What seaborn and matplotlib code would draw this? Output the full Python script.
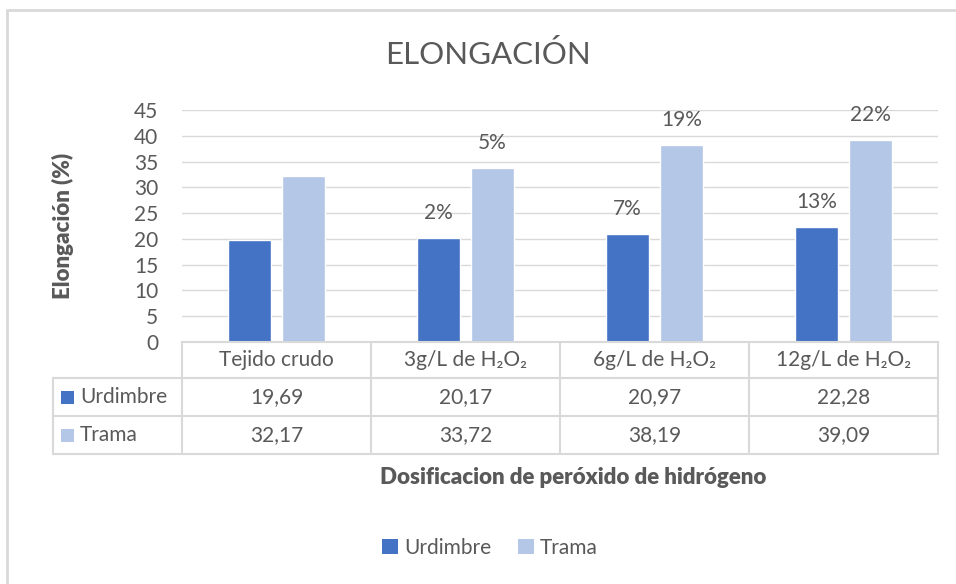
import matplotlib
matplotlib.use("Agg")
import matplotlib.pyplot as plt
import matplotlib.transforms as mtransforms
from matplotlib.lines import Line2D
from matplotlib.patches import Rectangle
import pandas as pd
import seaborn as sns

categories = ["Tejido crudo", "3g/L de H₂O₂", "6g/L de H₂O₂", "12g/L de H₂O₂"]
urdimbre = [19.69, 20.17, 20.97, 22.28]
trama = [32.17, 33.72, 38.19, 39.09]
urdimbre_pct = ["", "2%", "7%", "13%"]
trama_pct = ["", "5%", "19%", "22%"]
series = ["Urdimbre", "Trama"]
colors = ["#4472C4", "#B4C7E7"]
urdimbre_txt = ["19,69", "20,17", "20,97", "22,28"]
trama_txt = ["32,17", "33,72", "38,19", "39,09"]

df = pd.DataFrame({
    "cat": categories * 2,
    "serie": ["Urdimbre"] * 4 + ["Trama"] * 4,
    "val": urdimbre + trama,
})

sns.set_style("white")
plt.rcParams["font.family"] = ["Lato", "DejaVu Sans"]
txt = "#595959"
grid = "#D9D9D9"
fs = 15

W, H = 956, 584
fig = plt.figure(figsize=(W / 100, H / 100), dpi=100)
fig.patch.set_facecolor("white")


def fx(px):
    return px / W


def fy(py):
    return 1 - py / H


ax = fig.add_axes([fx(182), fy(342), fx(938) - fx(182), fy(110) - fy(342)])
sns.barplot(data=df, x="cat", y="val", hue="serie", order=categories,
            hue_order=series, palette=colors, width=0.571, gap=0.22,
            saturation=1, legend=False, ax=ax)
ax.set_xlim(-0.5, 3.5)
ax.set_ylim(0, 45)
ax.set_yticks(range(0, 50, 5))
ax.yaxis.grid(True, color=grid, linewidth=1)
ax.set_axisbelow(True)
for s in ax.spines.values():
    s.set_visible(False)
ax.tick_params(axis="y", length=0, labelsize=fs, labelcolor=txt, pad=17)
ax.set_xticks([])
ax.set_xlabel("")
ax.set_ylabel("Elongación (%)", fontsize=16, fontweight="heavy", color=txt, labelpad=43)

# percent labels over bars
for cont, labels in zip(ax.containers, [urdimbre_pct, trama_pct]):
    for bar, lab in zip(cont, labels):
        if lab:
            ax.annotate(lab, (bar.get_x() + bar.get_width() / 2, bar.get_height()),
                        xytext=(0, 18), textcoords="offset points", ha="center",
                        va="center", fontsize=fs, color=txt)

# data table under the plot
tr = mtransforms.blended_transform_factory(ax.transData, fig.transFigure)
left = -0.5 - (182 - 53) / 189
rows = [fy(342), fy(378), fy(416), fy(454)]
lkw = dict(color=grid, linewidth=1.5, transform=tr, clip_on=False)
fig.add_artist(Line2D([-0.5, 3.5], [rows[0]] * 2, **lkw))
for r in rows[1:]:
    fig.add_artist(Line2D([left, 3.5], [r] * 2, **lkw))
fig.add_artist(Line2D([left, left], [rows[1], rows[3]], **lkw))
for i in range(5):
    fig.add_artist(Line2D([i - 0.5, i - 0.5], [rows[0], rows[3]], **lkw))

for i, c in enumerate(categories):
    fig.text(i, (rows[0] + rows[1]) / 2, c, transform=tr, ha="center", va="center",
             fontsize=fs, color=txt)
    fig.text(i, (rows[1] + rows[2]) / 2, urdimbre_txt[i], transform=tr, ha="center",
             va="center", fontsize=fs, color=txt)
    fig.text(i, (rows[2] + rows[3]) / 2, trama_txt[i], transform=tr, ha="center",
             va="center", fontsize=fs, color=txt)

for k, (name, col) in enumerate(zip(series, colors)):
    yc = (rows[1 + k] + rows[2 + k]) / 2
    fig.add_artist(Rectangle((fx(61), yc - 6.5 / H), 13 / W, 13 / H,
                             facecolor=col, edgecolor="none", transform=fig.transFigure))
    fig.text(fx(80), yc, name, ha="left", va="center", fontsize=fs, color=txt)

fig.text(fx(488), fy(55), "ELONGACIÓN", ha="center", va="center", fontsize=22.5, color=txt)
fig.text(fx(573), fy(477), "Dosificacion de peróxido de hidrógeno", ha="center",
         va="center", fontsize=16, fontweight="heavy", color=txt)

# legend
handles = [Rectangle((0, 0), 1, 1, facecolor=c, edgecolor="none") for c in colors]
fig.legend(handles, series, loc="center", bbox_to_anchor=(fx(490), fy(548)), ncol=2,
           frameon=False, fontsize=fs, labelcolor=txt, handlelength=0.75,
           handleheight=0.75, handletextpad=0.3, columnspacing=1.3)

# chart border (top and left edges visible)
fig.add_artist(Line2D([fx(7), 1], [fy(10), fy(10)], color=grid, linewidth=2,
                      transform=fig.transFigure))
fig.add_artist(Line2D([fx(7), fx(7)], [fy(10), 0], color=grid, linewidth=2,
                      transform=fig.transFigure))

fig.savefig("out.png", dpi=100)
